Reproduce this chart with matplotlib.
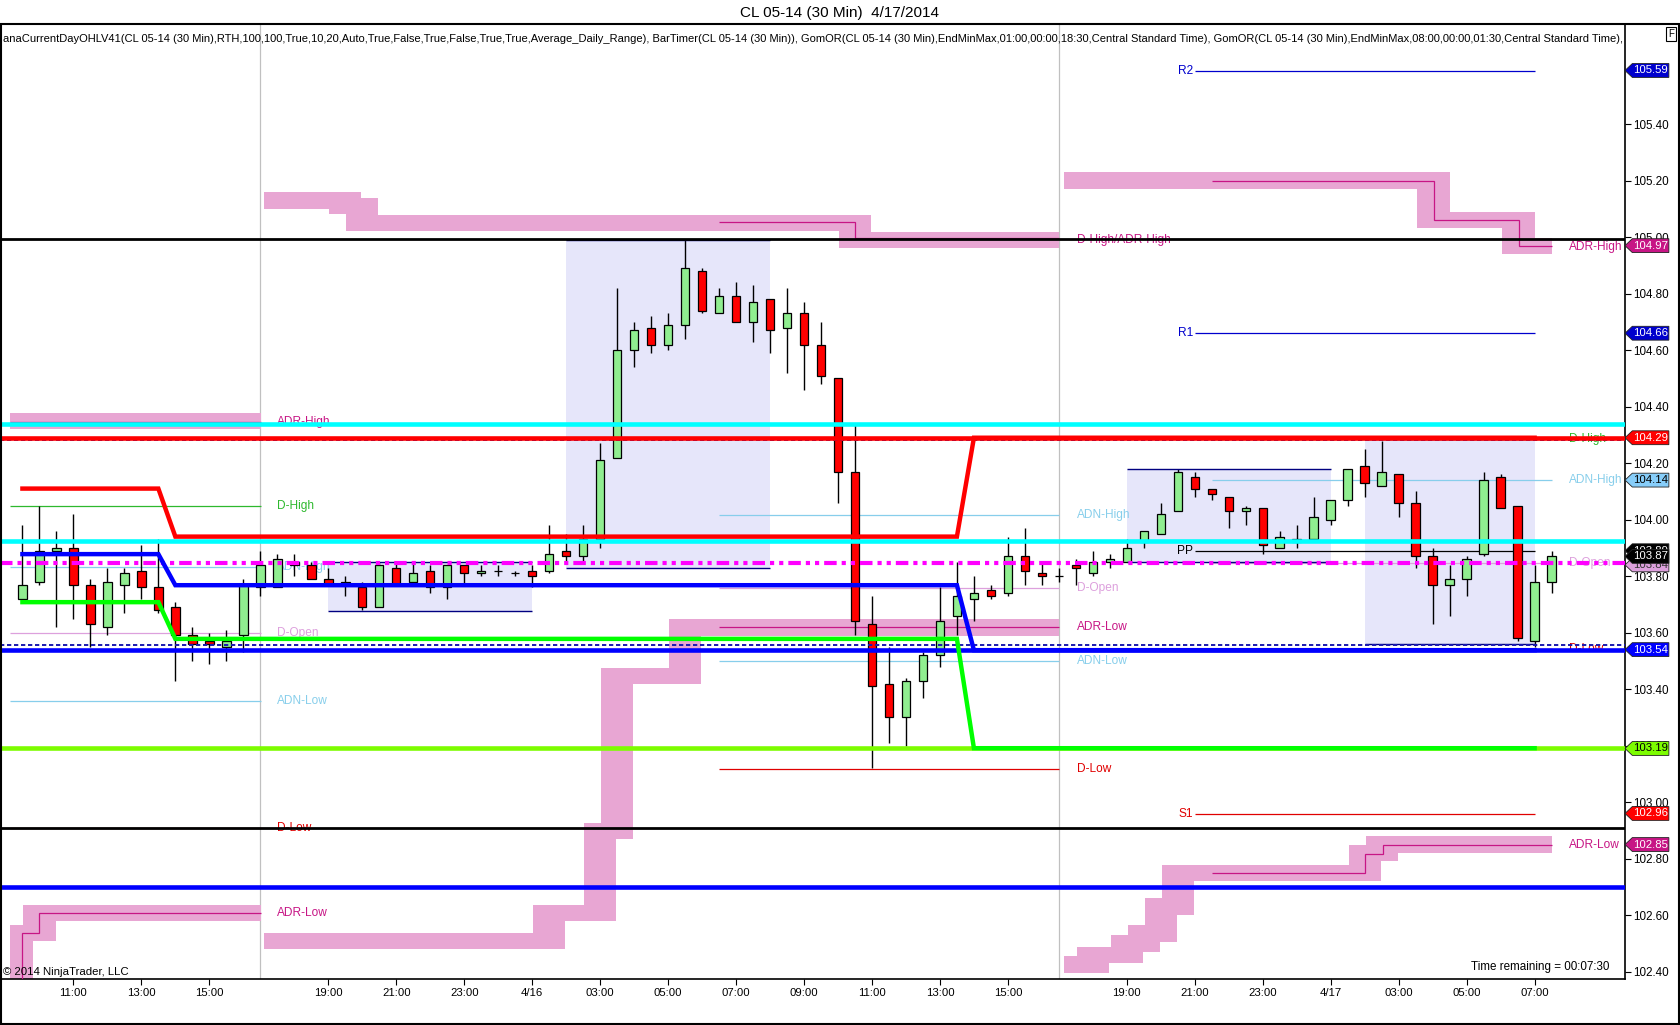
import numpy as np
import matplotlib
matplotlib.use('Agg')
import matplotlib.pyplot as plt
from matplotlib.patches import Rectangle, Polygon
from matplotlib.transforms import blended_transform_factory

plt.rcParams['font.family'] = ['Liberation Sans', 'DejaVu Sans']

# 30 min bars, bar 0 = 4/15 09:30 ... bar 90 = 4/17 07:30
opens = [103.72, 103.78, 103.89, 103.90, 103.77, 103.62, 103.77, 103.82, 103.76, 103.69,
         103.59, 103.57, 103.55, 103.59, 103.76, 103.76, 103.84, 103.84, 103.79, 103.78,
         103.76, 103.69, 103.83, 103.78, 103.82, 103.76, 103.84, 103.81, 103.82, 103.81,
         103.82, 103.82, 103.89, 103.87, 103.93, 104.22, 104.60, 104.68, 104.62, 104.69,
         104.88, 104.73, 104.79, 104.70, 104.78, 104.68, 104.73, 104.62, 104.50, 104.17,
         103.63, 103.42, 103.30, 103.43, 103.52, 103.66, 103.72, 103.75, 103.74, 103.87,
         103.81, 103.80, 103.84, 103.81, 103.85, 103.85, 103.92, 103.95, 104.03, 104.15,
         104.11, 104.08, 104.03, 104.04, 103.90, 103.92, 103.93, 104.00, 104.07, 104.19,
         104.12, 104.16, 104.06, 103.87, 103.77, 103.79, 103.88, 104.15, 104.05, 103.57,
         103.78]
highs = [103.98, 104.05, 103.96, 104.02, 103.79, 103.83, 103.83, 103.91, 103.93, 103.71,
         103.62, 103.60, 103.61, 103.79, 103.89, 103.88, 103.88, 103.85, 103.83, 103.80,
         103.78, 103.85, 103.85, 103.85, 103.84, 103.84, 103.84, 103.84, 103.84, 103.82,
         103.84, 103.98, 103.95, 103.98, 104.27, 104.82, 104.70, 104.72, 104.73, 104.99,
         104.89, 104.82, 104.84, 104.83, 104.78, 104.82, 104.77, 104.70, 104.50, 104.34,
         103.73, 103.55, 103.44, 103.53, 103.76, 103.85, 103.80, 103.77, 103.94, 103.97,
         103.85, 103.83, 103.86, 103.89, 103.88, 103.93, 103.96, 104.06, 104.18, 104.17,
         104.11, 104.08, 104.05, 104.04, 103.96, 103.98, 104.08, 104.07, 104.18, 104.25,
         104.28, 104.16, 104.10, 103.90, 103.84, 103.87, 104.17, 104.16, 104.05, 103.84,
         103.89]
lows = [103.71, 103.77, 103.62, 103.65, 103.55, 103.59, 103.67, 103.72, 103.67, 103.43,
        103.50, 103.49, 103.50, 103.53, 103.73, 103.76, 103.80, 103.79, 103.77, 103.73,
        103.68, 103.69, 103.77, 103.77, 103.74, 103.72, 103.77, 103.80, 103.80, 103.80,
        103.76, 103.81, 103.85, 103.85, 103.90, 104.22, 104.54, 104.59, 104.60, 104.64,
        104.73, 104.73, 104.70, 104.63, 104.59, 104.52, 104.46, 104.48, 104.06, 103.59,
        103.12, 103.21, 103.20, 103.37, 103.48, 103.59, 103.64, 103.72, 103.73, 103.77,
        103.77, 103.78, 103.77, 103.80, 103.83, 103.85, 103.90, 103.95, 104.03, 104.08,
        104.07, 103.97, 103.98, 103.88, 103.90, 103.90, 103.92, 103.98, 104.05, 104.08,
        104.12, 104.01, 103.83, 103.63, 103.66, 103.73, 103.87, 104.04, 103.57, 103.55,
        103.74]
closes = [103.77, 103.89, 103.90, 103.77, 103.63, 103.78, 103.81, 103.76, 103.68, 103.59,
          103.56, 103.56, 103.57, 103.77, 103.84, 103.86, 103.85, 103.79, 103.77, 103.77,
          103.69, 103.84, 103.77, 103.81, 103.76, 103.84, 103.81, 103.82, 103.82, 103.81,
          103.80, 103.88, 103.87, 103.93, 104.21, 104.60, 104.67, 104.62, 104.69, 104.89,
          104.74, 104.79, 104.70, 104.77, 104.67, 104.73, 104.62, 104.51, 104.17, 103.64,
          103.41, 103.30, 103.43, 103.52, 103.64, 103.73, 103.74, 103.73, 103.87, 103.82,
          103.80, 103.80, 103.83, 103.85, 103.86, 103.90, 103.96, 104.02, 104.17, 104.11,
          104.09, 104.03, 104.04, 103.91, 103.94, 103.93, 104.01, 104.07, 104.18, 104.13,
          104.17, 104.06, 103.87, 103.77, 103.79, 103.86, 104.14, 104.04, 103.58, 103.78,
          103.87]

tick_bars = [3, 7, 11, 18, 22, 26, 30, 34, 38, 42, 46, 50, 54, 58, 65, 69, 73, 77, 81, 85, 89]
tick_labels = ['11:00', '13:00', '15:00', '19:00', '21:00', '23:00', '4/16', '03:00', '05:00',
               '07:00', '09:00', '11:00', '13:00', '15:00', '19:00', '21:00', '23:00', '4/17',
               '03:00', '05:00', '07:00']
session_breaks = [14, 61]

# GomOR boxes (first bar, last bar, low, high)
box_first = [18, 32, 65, 79]
box_last = [30, 44, 77, 89]
box_low = [103.676, 103.829, 103.849, 103.56]
box_high = [103.85, 104.99, 104.179, 104.285]

# stepped high / mid / low lines
or_first = [0, 9, 56]
or_last = [8, 55, 89]
or_high = [104.11, 103.94, 104.29]
or_mid = [103.878, 103.768, 103.538]
or_low = [103.708, 103.578, 103.191]

# full width levels
lvl_values = [104.995, 102.91, 102.70, 104.338, 104.29, 103.925, 103.538, 103.19]
lvl_colors = ['black', 'black', '#0000FF', '#00FFFF', '#FF0000', '#00FFFF', '#0000FF', '#7CFC00']
lvl_widths = [2.0, 2.0, 3.3, 3.3, 3.3, 3.3, 3.3, 3.3]
dash_values = [104.281, 103.558]
dashdot_value = 103.845

# ADR bands (thick pink), stair edges in bar units
adrh_edges = [[-0.76, 14.03], [14.2, 19, 20, 49, 61.03], [61.3, 83.05, 88.05, 90.05]]
adrh_vals = [[104.35], [105.13, 105.11, 105.05, 104.99], [105.20, 105.06, 104.968]]
adrl_edges = [[-0.76, -0.3, 1.0, 14.03], [14.2, 31, 34, 35, 39, 61.03],
              [61.3, 63, 65, 66, 67, 68, 79, 80, 90.05]]
adrl_vals = [[102.30, 102.536, 102.607], [102.508, 102.607, 102.897, 103.447, 103.618],
             [102.425, 102.46, 102.50, 102.535, 102.63, 102.75, 102.82, 102.85]]

# thin ADR lines
adrh_thin_edges = [[-0.76, 14.03], [41, 49, 61], [70, 83.05, 88.06, 90]]
adrh_thin_vals = [[104.347], [105.052, 104.996], [105.199, 105.06, 104.968]]
adrl_thin_edges = [[-0.76, 0.0, 1.0, 14.03], [41, 61], [70, 79, 80.07, 90]]
adrl_thin_vals = [[102.30, 102.536, 102.607], [103.62], [102.749, 102.816, 102.849]]

# other day levels: session span, names, values
sess_start = [-0.76, 41, 70]
sess_end = [14.03, 61, 90]
sess_label_x = [15.0, 62.05, 91.05]
day_names = [['D-High', 'ADN-High', 'D-Open', 'ADN-Low', 'D-Low'],
             ['ADN-High', 'D-Open', 'ADN-Low', 'D-Low'],
             ['D-High', 'ADN-High', 'D-Open', 'D-Low']]
day_values = [[104.05, 103.834, 103.598, 103.357, 102.907],
              [104.016, 103.759, 103.499, 103.118],
              [104.284, 104.14, 103.845, 103.542]]
adr_label_names = [['ADR-High', 'ADR-Low'], ['D-High/ADR-High', 'ADR-Low'], ['ADR-High', 'ADR-Low']]
adr_label_values = [[104.345, 102.607], [104.99, 103.62], [104.965, 102.849]]

pivot_names = ['R2', 'R1', 'PP', 'S1']
pivot_values = [105.588, 104.66, 103.888, 102.958]
pivot_colors = ['#0000CD', '#0000CD', 'black', '#E00000']
pivot_start, pivot_end = 69, 89

flag_values = [105.59, 104.97, 104.66, 104.29, 104.14, 103.89, 103.84, 103.87, 103.54, 103.19, 102.96, 102.85]
flag_texts = ['105.59', '104.97', '104.66', '104.29', '104.14', '103.89', '103.84', '103.87',
              '103.54', '103.19', '102.96', '102.85']
flag_colors = ['#0000CD', '#C71585', '#0000CD', '#FF0000', '#87CEFA', '#000000', '#DDA0DD',
               '#000000', '#0000FF', '#7CFC00', '#FF0000', '#C71585']
flag_text_colors = ['white', 'white', 'white', 'white', 'black', 'white', '#333333', 'white',
                    'white', 'black', 'white', 'white']

ADR = '#C71585'
PINK = '#E8A6D3'
line_colors = {'D-High': '#2EB82E', 'ADN-High': '#87CEEB', 'D-Open': '#DDA0DD',
               'ADN-Low': '#87CEEB', 'D-Low': '#E00000'}

fig = plt.figure(figsize=(16.8, 10.25), dpi=100)
top = 1 - 23.6 / 1025
bottom = 1 - 979 / 1025
ax = fig.add_axes([0.0, bottom, 1625 / 1680, top - bottom])
ax.set_xlim(-1.32, 94.32)
ax.set_ylim(102.374, 105.756)

# opening range boxes
for b0, b1, lo, hi in zip(box_first, box_last, box_low, box_high):
    ax.add_patch(Rectangle((b0, lo), b1 - b0, hi - lo, fc='#E6E6FA', ec='none', zorder=1))
    ax.hlines([lo, hi], b0, b1, color='#000080', lw=1.0, zorder=4.6)

for s in session_breaks:
    ax.axvline(s, color='#C0C0C0', lw=0.9, zorder=1.2)


def pink_band(edges, vals, h=0.058):
    for k, v in enumerate(vals):
        ax.add_patch(Rectangle((edges[k], v - h / 2), edges[k + 1] - edges[k], h,
                               fc=PINK, ec='none', zorder=2))
    for k in range(1, len(vals)):
        lo = min(vals[k - 1], vals[k]) - h / 2
        hi = max(vals[k - 1], vals[k]) + h / 2
        x0 = max(edges[k] - 0.95, edges[0])
        x1 = min(edges[k] + 0.95, edges[-1])
        ax.add_patch(Rectangle((x0, lo), x1 - x0, hi - lo, fc=PINK, ec='none', zorder=2))


for e, v in zip(adrh_edges, adrh_vals):
    pink_band(e, v)
for e, v in zip(adrl_edges, adrl_vals):
    pink_band(e, v)

for e, v in zip(adrh_thin_edges + adrl_thin_edges, adrh_thin_vals + adrl_thin_vals):
    ax.stairs(v, e, baseline=None, color=ADR, lw=0.9, zorder=3)

# thin day levels and their labels
lab_kw = dict(fontsize=8.6, va='center', ha='left', zorder=3, clip_on=False)
for s in range(3):
    for name, val in zip(day_names[s], day_values[s]):
        ax.hlines(val, sess_start[s], sess_end[s], color=line_colors[name], lw=0.9, zorder=3)
        ax.text(sess_label_x[s], val, name, color=line_colors[name], **lab_kw)
    for name, val in zip(adr_label_names[s], adr_label_values[s]):
        ax.text(sess_label_x[s], val, name, color=ADR, **lab_kw)

for name, val, col in zip(pivot_names, pivot_values, pivot_colors):
    ax.hlines(val, pivot_start, pivot_end, color=col, lw=0.9, zorder=3)
    ax.text(pivot_start - 0.1, val, name, color=col, fontsize=8.6, va='center', ha='right', zorder=3)

# candles
x = np.arange(len(opens))
o = np.array(opens)
c = np.array(closes)
up = c >= o
ax.vlines(x, lows, highs, color='black', lw=1.0, zorder=4)
ax.bar(x, np.abs(c - o), bottom=np.minimum(o, c), width=0.5,
       color=np.where(up, '#90EE90', '#FF0000'), edgecolor='black', lw=0.9, zorder=4.5)

# full width levels
for v, col, w in zip(lvl_values, lvl_colors, lvl_widths):
    ax.axhline(v, color=col, lw=w, zorder=6)
for v in dash_values:
    ax.axhline(v, color='#1A1AB0', lw=1.4, dashes=(2.2, 1.4), zorder=5.8)
ax.axhline(dashdot_value, color='#FF00FF', lw=3.0, dashes=(3, 1.2, 1, 1.2, 1, 1.2), zorder=6)

# stepped range lines
for vals, col in [(or_high, '#FF0000'), (or_mid, '#0000FF'), (or_low, '#00FF00')]:
    xs, ys = [], []
    for b0, b1, v in zip(or_first, or_last, vals):
        xs += [b0, b1]
        ys += [v, v]
    ax.plot(xs, ys, color=col, lw=3.2, zorder=6.5, solid_joinstyle='miter')

# axes styling
for sp in ax.spines.values():
    sp.set_color('black')
    sp.set_linewidth(1.2)
ax.yaxis.tick_right()
ax.set_yticks(np.arange(102.4, 105.41, 0.2))
ax.yaxis.set_major_formatter(matplotlib.ticker.FormatStrFormatter('%.2f'))
ax.tick_params(axis='y', direction='out', length=4, width=0.8, pad=2, labelsize=8.4)
ax.set_xticks(tick_bars)
ax.set_xticklabels(tick_labels)
ax.tick_params(axis='x', direction='out', length=4, width=0.8, pad=2.5, labelsize=8.2)

# price flags on the right axis
trans = blended_transform_factory(ax.transAxes, ax.transData)
hh = 0.0245
for k, (v, t, fc, tc) in enumerate(zip(flag_values, flag_texts, flag_colors, flag_text_colors)):
    poly = [(1.0, v), (1.0045, v + hh), (1.027, v + hh), (1.027, v - hh), (1.0045, v - hh)]
    ax.add_patch(Polygon(poly, closed=True, transform=trans, fc=fc, ec='#222222', lw=0.6,
                         clip_on=False, zorder=20 + k))
    ax.text(1.0158, v, t, transform=trans, ha='center', va='center', color=tc, fontsize=8.2,
            clip_on=False, zorder=20 + k)

ax.text(0.002, 0.002, '\u00a9 2014 NinjaTrader, LLC', transform=ax.transAxes, fontsize=8.2,
        ha='left', va='bottom', zorder=30)
ax.text(0.9905, 0.006, 'Time remaining = 00:07:30', transform=ax.transAxes, fontsize=8.4,
        ha='right', va='bottom', zorder=30)

# header texts
fig.text(0.5, 1 - 13 / 1025, 'CL 05-14 (30 Min)  4/17/2014', ha='center', va='center', fontsize=11)
ind = ('anaCurrentDayOHLV41(CL 05-14 (30 Min),RTH,100,100,True,10,20,Auto,True,False,True,False,'
       'True,True,Average_Daily_Range), BarTimer(CL 05-14 (30 Min)), GomOR(CL 05-14 (30 Min),'
       'EndMinMax,01:00,00:00,18:30,Central Standard Time), GomOR(CL 05-14 (30 Min),EndMinMax,'
       '08:00,00:00,01:30,Central Standard Time),')
t_ind = fig.text(3 / 1680, 1 - 38.6 / 1025, ind, ha='left', va='center', fontsize=7.5)
fig.canvas.draw()
w = t_ind.get_window_extent().width
t_ind.set_fontsize(7.5 * 1615 / w)

fig.text(1671 / 1680, 1 - 34 / 1025, 'F', ha='center', va='center', fontsize=7,
         bbox=dict(boxstyle='square,pad=0.25', fc='white', ec='black', lw=0.8))

fig.add_artist(Rectangle((0.0004, 0.0006), 0.9992, top - 0.0006, transform=fig.transFigure,
                         fill=False, ec='black', lw=1.5))

fig.savefig('out.png', dpi=100, facecolor='white')
